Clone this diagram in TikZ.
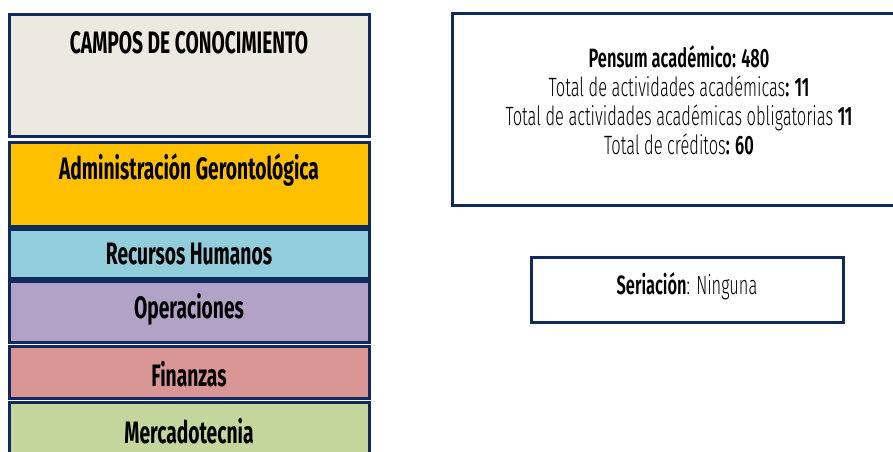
\documentclass[tikz,border=0pt]{standalone}
\usepackage{fontspec}
\setmainfont{Fira Sans}[FakeStretch=0.62]
\newfontfamily\lightf{Fira Sans Light}[FakeStretch=0.62, BoldFont=Fira Sans SemiBold]
\usetikzlibrary{shadows}
\definecolor{navy}{HTML}{10295E}
\definecolor{cgray}{HTML}{ECEAE0}
\definecolor{cgold}{HTML}{FFC000}
\definecolor{cblue}{HTML}{92CDDC}
\definecolor{cviolet}{HTML}{B2A2C7}
\definecolor{cred}{HTML}{D99694}
\definecolor{cgreen}{HTML}{C3D69B}
\tikzset{
  box/.style={draw=navy, line width=3pt, drop shadow={shadow xshift=2pt, shadow yshift=-2pt, opacity=0.35}},
  lbl/.style={font=\bfseries\fontsize{31}{36}\selectfont, anchor=center, inner sep=0pt},
  info/.style={font=\lightf\fontsize{26.5}{29}\selectfont, align=center, anchor=center, inner sep=0pt}
}
\begin{document}
\begin{tikzpicture}[x=1pt,y=-1pt]
\useasboundingbox (0,0) rectangle (893,451);
\begin{scope}
\clip (0,0) rectangle (893,451);
% left column
\draw[box, fill=cgray] (9,14) rectangle (369,136);
\draw[box, fill=cgold] (9,142) rectangle (369,226);
\draw[box, fill=cblue] (9,229) rectangle (369,278);
\draw[box, fill=cviolet] (9,281) rectangle (369,342);
\draw[box, fill=cred] (9,346) rectangle (369,398);
\draw[box, fill=cgreen] (9,402) rectangle (369,470);
% right boxes
\draw[box, fill=white] (452,13) rectangle (905,205);
\draw[box, fill=white] (531,257) rectangle (843,322);
\end{scope}
\node[lbl] (campos) at (189,43) {CAMPOS DE CONOCIMIENTO};
\node[lbl] (admin) at (189,170) {Administración Gerontológica};
\node[lbl] (rh) at (189,254) {Recursos Humanos};
\node[lbl] (ops) at (189,309) {Operaciones};
\node[lbl] (fin) at (189,374) {Finanzas};
\node[lbl] (merc) at (189,431) {Mercadotecnia};
\node[info] (pensum) at (679,100) {\textbf{Pensum académico: 480}\\
Total de actividades académicas\textbf{: 11}\\
Total de actividades académicas obligatorias \textbf{11}\\
Total de créditos\textbf{: 60}};
\node[info] (seri) at (687,286) {\textbf{Seriación}: Ninguna};
\end{tikzpicture}
\end{document}
